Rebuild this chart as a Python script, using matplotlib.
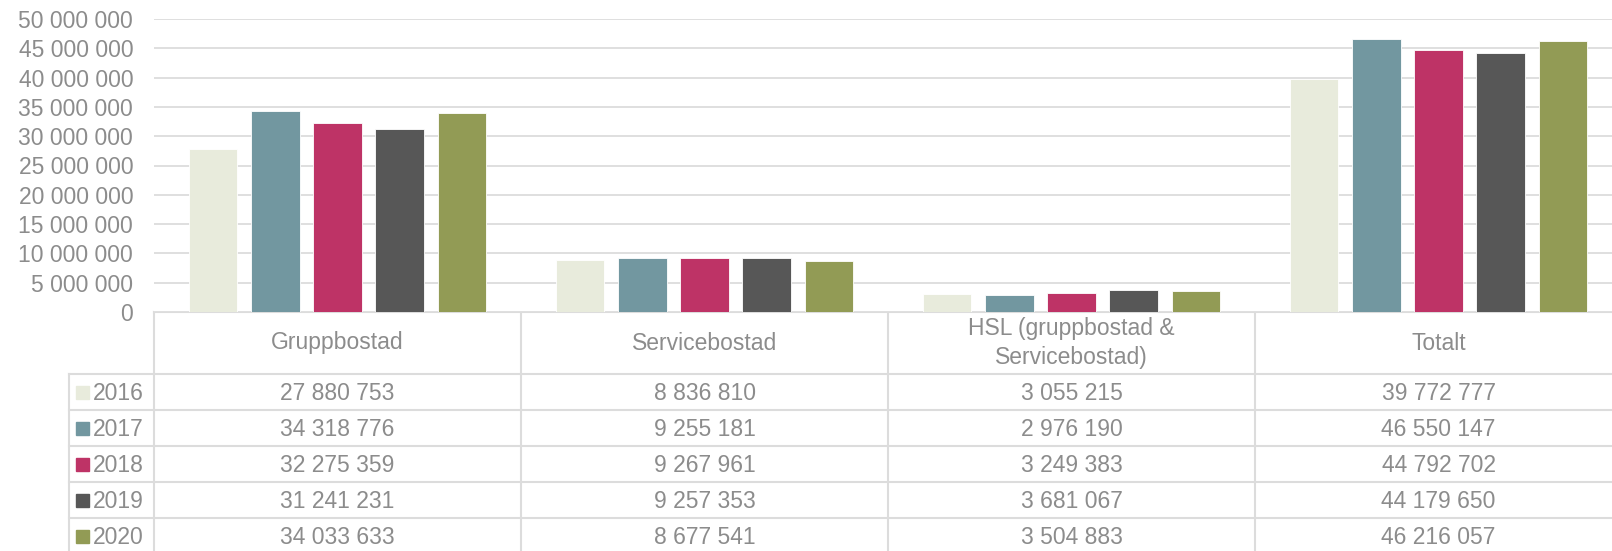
import numpy as np
import matplotlib
matplotlib.use("Agg")
import matplotlib.pyplot as plt
from matplotlib.patches import Rectangle

plt.rcParams['font.family'] = ['Liberation Sans', 'DejaVu Sans']

categories = ['Gruppbostad', 'Servicebostad', 'HSL (gruppbostad &\nServicebostad)', 'Totalt']
years = ['2016', '2017', '2018', '2019', '2020']
values = {
    '2016': [27880753, 8836810, 3055215, 39772777],
    '2017': [34318776, 9255181, 2976190, 46550147],
    '2018': [32275359, 9267961, 3249383, 44792702],
    '2019': [31241231, 9257353, 3681067, 44179650],
    '2020': [34033633, 8677541, 3504883, 46216057],
}
colors = ['#e8ebdc', '#7297a0', '#be3366', '#575757', '#929b55']

TXT = '#8c8c8c'
GRID = '#dcdcdc'
W, H = 1612, 551

def fmt(v):
    return f'{int(v):,}'.replace(',', ' ')

fig = plt.figure(figsize=(W / 100, H / 100), dpi=100)

# pixel layout of plot area and table (plot runs slightly past the right edge)
px_left, px_right = 154, 1622
px_top, px_zero = 19, 312
row_edges = [312, 374, 410, 446, 482, 518, 554]
leg_left = 69

ax = fig.add_axes([px_left / W, 1 - px_zero / H, (px_right - px_left) / W, (px_zero - px_top) / H])
n = len(categories)
x = np.arange(n) + 0.5
pitch, bw = 0.169, 0.131
for k, yr in enumerate(years):
    ax.bar(x + (k - 2) * pitch, values[yr], width=bw, color=colors[k],
           edgecolor='white', linewidth=0.6, zorder=3)

ax.set_xlim(0, n)
ax.set_ylim(0, 50_000_000)
ticks = np.arange(0, 50_000_001, 5_000_000)
ax.set_yticks(ticks)
ax.set_yticklabels([fmt(t) for t in ticks])
ax.set_xticks([])
ax.tick_params(axis='y', length=0, pad=15, labelsize=16.5, labelcolor=TXT)
ax.grid(axis='y', color=GRID, linewidth=1.3, zorder=0)
for s in ['top', 'right', 'left', 'bottom']:
    ax.spines[s].set_visible(False)

# table overlay in pixel coordinates
tab = fig.add_axes([0, 0, 1, 1], zorder=-1)
tab.set_xlim(0, W)
tab.set_ylim(H, 0)
tab.axis('off')

col_w = (px_right - px_left) / n
lw = 1.5
tab.plot([px_left, W], [row_edges[0]] * 2, color=GRID, lw=lw)
for y in row_edges[1:-1]:
    tab.plot([leg_left, W], [y, y], color=GRID, lw=lw)
for i in range(n):
    xv = px_left + i * col_w
    tab.plot([xv, xv], [row_edges[0], H], color=GRID, lw=lw)
tab.plot([leg_left, leg_left], [row_edges[1], H], color=GRID, lw=lw)

# header row
hy = (row_edges[0] + row_edges[1]) / 2
for i, c in enumerate(categories):
    tab.text(px_left + (i + 0.5) * col_w, hy, c, ha='center', va='center',
             fontsize=16.5, color=TXT, linespacing=1.3)

# data rows with legend keys
for k, yr in enumerate(years):
    yc = (row_edges[k + 1] + row_edges[k + 2]) / 2
    tab.add_patch(Rectangle((76, yc - 6.5), 13, 13, color=colors[k]))
    tab.text(93, yc + 1, yr, ha='left', va='center', fontsize=16.5, color=TXT)
    for i in range(n):
        tab.text(px_left + (i + 0.5) * col_w, yc + 1, fmt(values[yr][i]),
                 ha='center', va='center', fontsize=16.5, color=TXT)

fig.savefig('out.png', dpi=100)
